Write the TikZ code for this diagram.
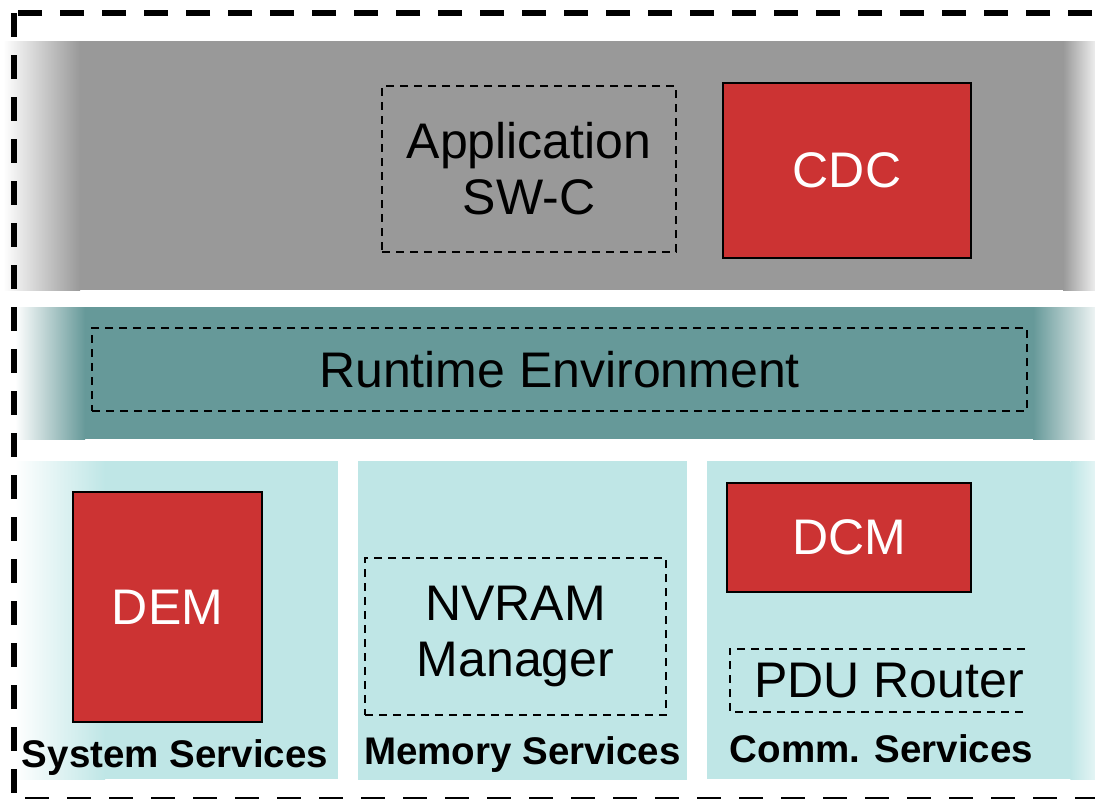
\documentclass[tikz,border=0pt]{standalone}
\usepackage{fontspec}
\setmainfont{Liberation Sans}
\usepackage{tikz}
\definecolor{bandgray}{RGB}{153,153,153}
\definecolor{bandteal}{RGB}{102,153,153}
\definecolor{paneblue}{RGB}{191,230,230}
\definecolor{modred}{RGB}{204,51,51}
\tikzset{
    raw box/.style={rectangle, inner sep=0pt, align=center, font=\fontsize{50}{56}\selectfont},
    red box/.style={raw box, draw=black, line width=1.5pt, fill=modred, text=white},
    dash box/.style={raw box, draw=black, line width=1.5pt, dash pattern=on 8pt off 6pt},
    pane/.style={rectangle, inner sep=0pt, fill=paneblue, draw=none},
    pane label/.style={font=\bfseries\fontsize{38.5}{44}\selectfont, anchor=base},
    outer border/.style={draw=black, line width=6pt, dash pattern=on 24pt off 18pt}
}

\begin{document}
\begin{tikzpicture}[x=1pt,y=-1pt]
	\useasboundingbox (0,0) rectangle (1095,798);
	\clip (0,0) rectangle (1095,798);
		% application layer
		\fill[bandgray] (80,41) rectangle (1063,290);
		\shade[left color=white, right color=bandgray] (3,41) rectangle (80,290);
		\shade[left color=bandgray, right color=bandgray!15] (1063,41) rectangle (1096,290);
		\node[dash box, minimum width=294, minimum height=166] (swc) at (529,169) {Application\\SW-C};
		\node[red box, minimum width=248, minimum height=175] (cdc) at (847,170.5) {CDC};
		% rte layer
		\fill[bandteal] (85,307) rectangle (1033,439);
		\shade[left color=white, right color=bandteal] (15,307) rectangle (85,439);
		\shade[left color=bandteal, right color=bandteal!10] (1033,307) rectangle (1096,439);
		\node[dash box, minimum width=935, minimum height=83] (rte) at (559.5,369.5) {Runtime Environment};
		% basic software
		\node[pane, minimum width=233, minimum height=318, anchor=north west] (sys) at (105,461) {};
		\shade[left color=white, right color=paneblue] (15,461) rectangle (sys.south west);
		\node[pane, minimum width=329, minimum height=319, anchor=north west] (mem) at (358,461) {};
		\node[pane, minimum width=363, minimum height=318, anchor=north west] (com) at (707,461) {};
		\shade[left color=paneblue, right color=paneblue!40] (com.north east) rectangle (1096,779);
		\node[red box, minimum width=189, minimum height=230] (dem) at (167.5,607) {DEM};
		\node[dash box, minimum width=301, minimum height=157] (nvm) at (515.5,636.5) {NVRAM\\Manager};
		\node[red box, minimum width=244, minimum height=109] (dcm) at (849,537.5) {DCM};
		\node[minimum width=295, minimum height=63, inner sep=0pt] (pdu) at (877.5,680.5) {};
		\draw[line width=1.5pt, dash pattern=on 8pt off 6pt] (pdu.north east) -- (pdu.north west) -- (pdu.south west) -- (pdu.south east);
		\node[raw box, anchor=east] (pdutext) at ([xshift=-1pt]pdu.east) {PDU Router};
		\node[pane label] (syslbl) at (175,767) {System Services};
		\node[pane label] (memlbl) at (522.5,764) {Memory Services};
		\node[pane label] (comlbl) at (881.5,762) {Comm. Services};
		% ecu border
		\draw[outer border] (14,13) rectangle (1110,800);
	\end{tikzpicture}
\end{document}
